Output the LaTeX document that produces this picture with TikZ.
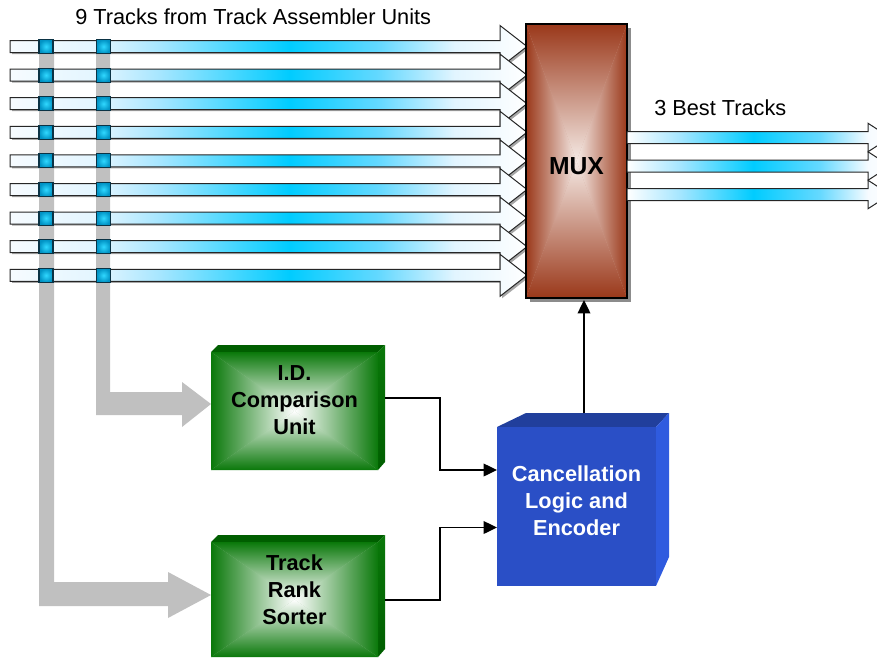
\documentclass[tikz,border=0pt]{standalone}
\usepackage{fontspec}
\setmainfont{Liberation Sans}
\usetikzlibrary{arrows.meta,calc}
\definecolor{cA}{HTML}{F6FBFF}
\definecolor{cB}{HTML}{E2F5FF}
\definecolor{cC}{HTML}{A6E6FF}
\definecolor{cD}{HTML}{00CCFF}
\definecolor{cE}{HTML}{66D9FF}
\definecolor{gedge}{HTML}{0A780A}
\definecolor{gtop}{HTML}{005E00}
\definecolor{gside}{HTML}{0C6C0C}
\definecolor{bfront}{HTML}{2A4FC6}
\definecolor{btop}{HTML}{213F9C}
\definecolor{bside}{HTML}{2F5BDF}
\definecolor{medge}{HTML}{9A381A}
\definecolor{mcore}{HTML}{F5EAE5}
\definecolor{barg}{HTML}{C0C0C0}
\definecolor{sqin}{HTML}{30D8FF}
\definecolor{sqout}{HTML}{0092C4}
\definecolor{sqline}{HTML}{0B3345}
\pgfdeclarehorizontalshading{inshade}{100bp}{color(0bp)=(cA); color(25bp)=(cA); color(33.7bp)=(cB); color(39.5bp)=(cC); color(52bp)=(cD); color(60.8bp)=(cE); color(68bp)=(cB); color(75bp)=(white); color(100bp)=(white)}
\pgfdeclarehorizontalshading{outshade}{100bp}{color(0bp)=(white); color(25bp)=(white); color(35bp)=(cC); color(49bp)=(cD); color(61.7bp)=(cE); color(70.8bp)=(cA); color(75bp)=(white); color(100bp)=(white)}
% rectangle-from-centre shading: x1 y1 x2 y2 outer inner
\newcommand\pyr[6]{%
  \pgfmathsetmacro\pcx{(#1+#3)/2}%
  \pgfmathsetmacro\pcy{(#2+#4)/2}%
  \fill[#6!60!#5] (#1,#2) rectangle (#3,#4);
  \shade[top color=#5,middle color=#5!35!#6,bottom color=#6] (#1,#2) -- (#3,#2) -- (\pcx,\pcy) -- cycle;
  \shade[top color=#6,middle color=#5!35!#6,bottom color=#5] (#1,#4) -- (#3,#4) -- (\pcx,\pcy) -- cycle;
  \shade[left color=#5,middle color=#5!35!#6,right color=#6] (#1,#2) -- (\pcx,\pcy) -- (#1,#4) -- cycle;
  \shade[left color=#6,middle color=#5!35!#6,right color=#5] (#3,#2) -- (\pcx,\pcy) -- (#3,#4) -- cycle;}
\tikzset{
  sq/.style={draw=sqline, line width=0.8pt, minimum size=10.5pt, inner sep=0pt, inner color=sqin, outer color=sqout},
  boxnode/.style={inner sep=0pt, outer sep=0pt, draw=none},
  boxtext/.style={align=center, inner sep=0pt, font=\bfseries\fontsize{16.3}{20.25}\selectfont},
  plain/.style={inner sep=0pt, font=\fontsize{16.3}{20}\selectfont},
  conn/.style={draw=black, line width=1pt, -{Triangle[length=10pt,width=9.5pt]}},
  trackline/.style={draw=black!85, line width=0.75pt}
}
\begin{document}
\begin{tikzpicture}[x=0.75pt,y=-0.75pt]
\fill[white] (0,0) rectangle (877,657);
\useasboundingbox (0,0) rectangle (877,657);
% gray bent arrows
\fill[barg] (96,46) -- (110,46) -- (110,392) -- (182,392) -- (182,382) -- (211,404) -- (182,427) -- (182,415) -- (96,415) -- cycle;
\fill[barg] (39,46) -- (54,46) -- (54,582) -- (168,582) -- (168,572) -- (211,595) -- (168,618) -- (168,606) -- (39,606) -- cycle;
% input tracks
\foreach \i in {0,...,8}{
  \pgfmathsetmacro\c{46.5+28.6*\i}
  \fill[black!35] (12,\c-4.5) -- (502,\c-4.5) -- (502,\c-19) -- (529,\c+2) -- (502,\c+23) -- (502,\c+7.5) -- (12,\c+7.5) -- cycle;
  \shadedraw[shading=inshade, trackline] (10,\c-6) -- (500,\c-6) -- (500,\c-21) -- (527,\c) -- (500,\c+21) -- (500,\c+6) -- (10,\c+6) -- cycle;
  \node[sq] (sa\i) at (46,\c) {};
  \node[sq] (sb\i) at (103.5,\c) {};
}
% MUX
\fill[black!45] (530,28) rectangle (631,302);
\pyr{526}{24}{627}{298}{medge}{mcore}
\draw[black, line width=1pt] (526,24) rectangle (627,298);
\node[boxnode, minimum width=75.75pt, minimum height=205.5pt] (mux) at (576.5,161) {};
\node[boxtext, font=\bfseries\fontsize{18.5}{22}\selectfont] (muxt) at (576.5,166.5) {MUX};
% output tracks
\foreach \i in {0,1,2}{
  \pgfmathsetmacro\c{137.5+28.5*\i}
  \shadedraw[shading=outshade, trackline] (627,\c-6) -- (868,\c-6) -- (868,\c-14.25) -- (890,\c) -- (868,\c+14.25) -- (868,\c+6) -- (627,\c+6) -- cycle;
}
% green box 1
\fill[gtop] (211,352) -- (218,345) -- (385,345) -- (378,352) -- cycle;
\shade[top color=gedge, bottom color=gtop] (378,352) -- (385,345) -- (385,462) -- (378,470) -- cycle;
\pyr{211}{352}{378}{470}{gedge}{white}
\node[boxnode, minimum width=125.25pt, minimum height=88.5pt] (idu) at (294.5,411) {};
\node[boxtext] (idut) at (294.5,400.5) {I.D.\\Comparison\\Unit};
% green box 2
\fill[gtop] (211,542) -- (218,535) -- (385,535) -- (378,542) -- cycle;
\shade[top color=gedge, bottom color=gtop] (378,542) -- (385,535) -- (385,649) -- (378,657) -- cycle;
\pyr{211}{542}{378}{657}{gedge}{white}
\node[boxnode, minimum width=125.25pt, minimum height=86.25pt] (trs) at (294.5,599.5) {};
\node[boxtext] (trst) at (294.5,590) {Track\\Rank\\Sorter};
% blue box
\fill[btop] (497,427) -- (526,413) -- (669,413) -- (656,427) -- cycle;
\fill[bside] (656,427) -- (669,413) -- (669,557) -- (656,586) -- cycle;
\fill[bfront] (497,427) rectangle (656,586);
\node[boxnode, minimum width=119.25pt, minimum height=119.25pt] (cle) at (576.5,506.5) {};
\node[boxtext, text=white] (clet) at (576.5,500.5) {Cancellation\\Logic and\\Encoder};
% connectors
\draw[conn] ([shift={(7,-13)}]idu.east) -- ++(55,0) |- ([shift={(0,-36.5)}]cle.west);
\draw[conn] ([shift={(7,0.5)}]trs.east) -- ++(55,0) |- ([shift={(0,21)}]cle.west);
\draw[conn] ([shift={(7.5,-14)}]cle.north) -- ([shift={(7.5,2)}]mux.south);
% labels
\node[plain, anchor=west] (title) at (75,17) {9 Tracks from Track Assembler Units};
\node[plain, anchor=west] (best) at (654,108) {3 Best Tracks};
\end{tikzpicture}
\end{document}
